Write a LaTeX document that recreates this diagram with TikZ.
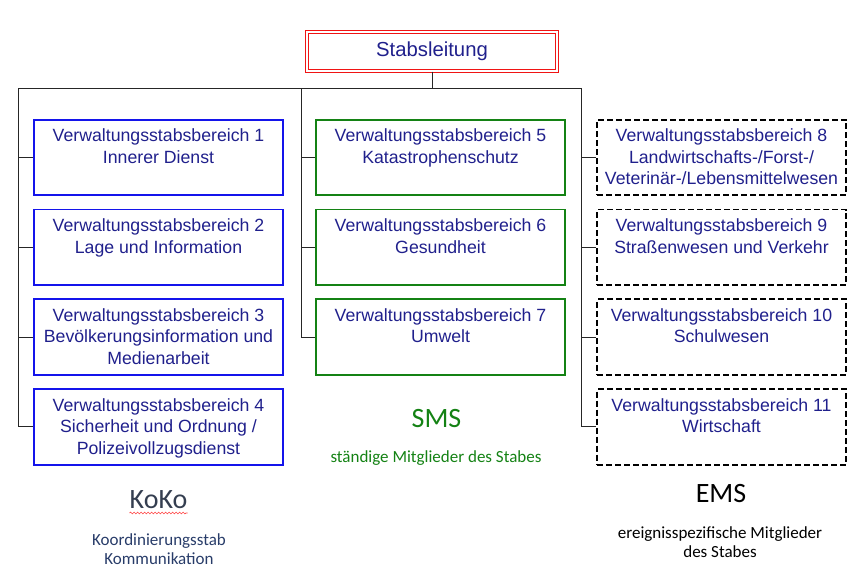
\documentclass[tikz,border=0pt]{standalone}
\usepackage{fontspec}
\setmainfont{Liberation Sans}
\newfontfamily\calibfont{Carlito}
\usetikzlibrary{positioning,decorations.pathmorphing}
\definecolor{vsnavy}{RGB}{32,32,140}
\definecolor{vsblue}{RGB}{20,20,235}
\definecolor{vsgreen}{RGB}{20,130,20}
\definecolor{sltred}{RGB}{240,20,20}
\definecolor{kokogray}{RGB}{52,62,80}
\definecolor{kokoblue}{RGB}{40,60,105}
\tikzset{
  leitung/.style={
    rectangle,
    draw=sltred, double=white, double distance=2pt, line width=1.2pt,
    minimum width=250pt,
    minimum height=39pt,
    text=vsnavy,
    font=\fontsize{20.3}{24}\selectfont},
  bereich/.style={
    rectangle,
    line width=1.8pt,
    minimum width=249pt,
    minimum height=75.5pt,
    inner sep=0pt},
  kokobox/.style={bereich, draw=vsblue},
  smsbox/.style={bereich, draw=vsgreen},
  emsbox/.style={bereich, draw=black, dash pattern=on 6pt off 3pt},
  bertext/.style={
    anchor=north, yshift=-10pt,
    align=center,
    text=vsnavy,
    inner sep=0pt,
    font=\fontsize{17.7}{21.5}\selectfont},
  line/.style={draw=black!85, line width=1pt},
  gruppe/.style={anchor=base, inner sep=0pt, font=\calibfont\fontsize{28}{32}\selectfont},
  gruppetext/.style={anchor=base, inner sep=0pt, align=center, font=\calibfont\fontsize{17}{19}\selectfont},
  spellwave/.style={draw=red!75, line width=0.6pt, decorate,
    decoration={snake, amplitude=0.9pt, segment length=3.5pt}},
}

\begin{document}
\begin{tikzpicture}[x=1pt, y=-1pt]
    \useasboundingbox (0,0) rectangle (856,580);
    \node[leitung] (sl) at (432,51.5) {Stabsleitung};
    % KoKo
    \node[kokobox, label={[bertext]north:{Verwaltungsstabsbereich 1\\Innerer Dienst}}] (vsb1) at (158.5,157.5) {};
    \node[kokobox, below=12.5pt of vsb1, label={[bertext]north:{Verwaltungsstabsbereich 2\\Lage und Information}}] (vsb2) {};
    \node[kokobox, below=12.5pt of vsb2, label={[bertext]north:{Verwaltungsstabsbereich 3\\Bevölkerungsinformation und\\Medienarbeit}}] (vsb3) {};
    \node[kokobox, below=12.5pt of vsb3, label={[bertext]north:{Verwaltungsstabsbereich 4\\Sicherheit und Ordnung /\\Polizeivollzugsdienst}}] (vsb4) {};
    % SMS
    \node[smsbox, label={[bertext]north:{Verwaltungsstabsbereich 5\\Katastrophenschutz}}] (vsb5) at (440.5,157.5) {};
    \node[smsbox, below=12.5pt of vsb5, label={[bertext]north:{Verwaltungsstabsbereich 6\\Gesundheit}}] (vsb6) {};
    \node[smsbox, below=12.5pt of vsb6, label={[bertext]north:{Verwaltungsstabsbereich 7\\Umwelt}}] (vsb7) {};
    % EMS
    \node[emsbox, label={[bertext]north:{Verwaltungsstabsbereich 8\\Landwirtschafts-/Forst-/\\Veterinär-/Lebensmittelwesen}}] (vsb8) at (721.5,157.5) {};
    \node[emsbox, below=12.5pt of vsb8, label={[bertext]north:{Verwaltungsstabsbereich 9\\Straßenwesen und Verkehr}}] (vsb9) {};
    \node[emsbox, below=12.5pt of vsb9, label={[bertext]north:{Verwaltungsstabsbereich 10\\Schulwesen}}] (vsb10) {};
    \node[emsbox, below=12.5pt of vsb10, label={[bertext]north:{Verwaltungsstabsbereich 11\\Wirtschaft}}] (vsb11) {};

    % Verbindungen
    \coordinate (busL) at (18,88.5);
    \coordinate (busM) at (301,88.5);
    \coordinate (busR) at (581,88.5);
    \draw[line] (sl.south) -- (sl.south |- busL);
    \draw[line] (busL) -- (busR);
    \draw[line] (busL) |- (vsb4.west);
    \draw[line] (busM) |- (vsb7.west);
    \draw[line] (busR) |- (vsb11.west);
    \foreach \n in {1,2,3}
        \draw[line] (vsb\n.west) -- (vsb\n.west -| busL);
    \foreach \n in {5,6}
        \draw[line] (vsb\n.west) -- (vsb\n.west -| busM);
    \foreach \n in {8,9,10}
        \draw[line] (vsb\n.west) -- (vsb\n.west -| busR);

    % Gruppen
    \node[gruppe, text=kokogray] (koko) at (158.5,508) {KoKo};
    \draw[spellwave] ([yshift=-5pt]koko.base west) -- ([yshift=-5pt]koko.base east);
    \node[gruppetext, text=kokoblue] (kokotxt) at (159,564) {Koordinierungsstab\\Kommunikation};
    \node[gruppe, text=vsgreen] (sms) at (436.5,427) {SMS};
    \node[gruppetext, text=vsgreen] (smstxt) at (436,462) {ständige Mitglieder des Stabes};
    \node[gruppe] (ems) at (721,502) {EMS};
    \node[gruppetext] (emstxt) at (720,557) {ereignisspezifische Mitglieder\\des Stabes};
\end{tikzpicture}
\end{document}
